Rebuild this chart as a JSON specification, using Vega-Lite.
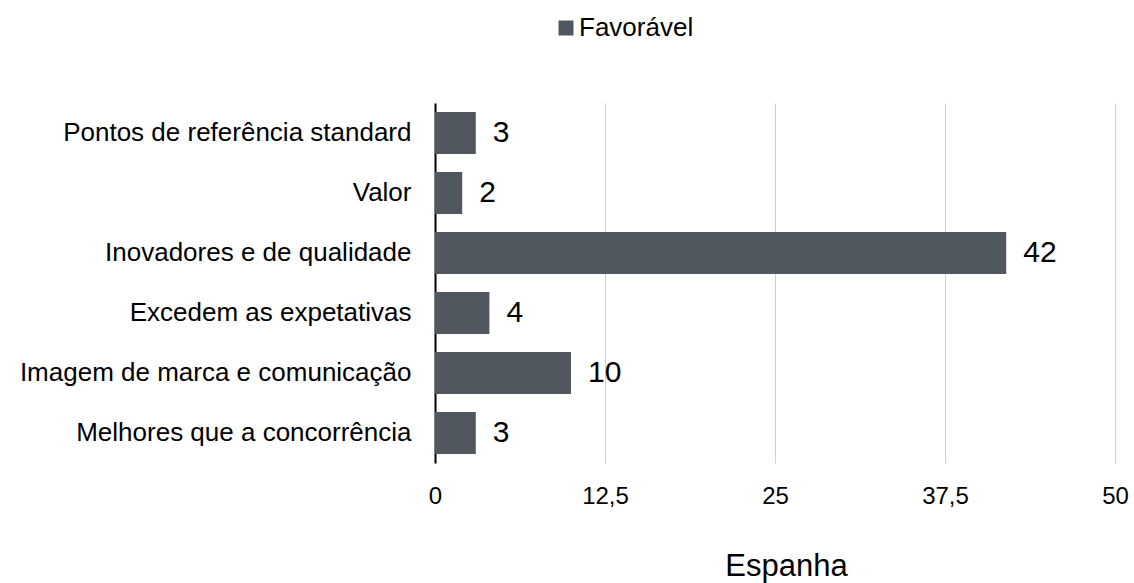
{
  "$schema": "https://vega.github.io/schema/vega-lite/v6.json",
  "width": 680,
  "height": 360,
  "autosize": "none",
  "padding": {"left": 435, "top": 103, "right": 19, "bottom": 120},
  "background": "white",
  "config": {
    "font": "Liberation Sans",
    "view": {"stroke": null}
  },
  "data": {
    "values": [
      {"categoria": "Pontos de referência standard", "valor": 3, "serie": "Favorável"},
      {"categoria": "Valor", "valor": 2, "serie": "Favorável"},
      {"categoria": "Inovadores e de qualidade", "valor": 42, "serie": "Favorável"},
      {"categoria": "Excedem as expetativas", "valor": 4, "serie": "Favorável"},
      {"categoria": "Imagem de marca e comunicação", "valor": 10, "serie": "Favorável"},
      {"categoria": "Melhores que a concorrência", "valor": 3, "serie": "Favorável"}
    ]
  },
  "encoding": {
    "y": {
      "field": "categoria",
      "type": "nominal",
      "sort": null,
      "scale": {"paddingInner": 0.3, "paddingOuter": 0.15},
      "axis": {
        "title": null,
        "domain": true,
        "domainColor": "#000000",
        "domainWidth": 2,
        "ticks": false,
        "grid": false,
        "labelFontSize": 26,
        "labelColor": "#000000",
        "labelPadding": 24,
        "labelLimit": 500
      }
    },
    "x": {
      "field": "valor",
      "type": "quantitative",
      "scale": {"domain": [0, 50], "nice": false},
      "axis": {
        "title": "Espanha",
        "values": [0, 12.5, 25, 37.5, 50],
        "labelExpr": "replace(format(datum.value, '~g'), '.', ',')",
        "domain": false,
        "ticks": false,
        "grid": true,
        "gridColor": "#d0d0d0",
        "gridWidth": 1,
        "labelFontSize": 24,
        "labelColor": "#000000",
        "labelPadding": 21,
        "labelFlush": false,
        "titleFontSize": 31,
        "titleFontWeight": "normal",
        "titleColor": "#000000",
        "titleX": 351,
        "titleY": 112,
        "titleAlign": "center",
        "titleBaseline": "alphabetic"
      }
    }
  },
  "layer": [
    {
      "mark": {"type": "bar"},
      "encoding": {
        "color": {
          "field": "serie",
          "type": "nominal",
          "scale": {"range": ["#51575f"]},
          "legend": {
            "title": null,
            "orient": "none",
            "legendX": 118,
            "legendY": -88,
            "symbolType": "square",
            "symbolSize": 225,
            "symbolStrokeWidth": 0,
            "labelFontSize": 26,
            "labelColor": "#000000",
            "labelOffset": 0,
            "padding": 0
          }
        }
      }
    },
    {
      "mark": {"type": "text", "align": "left", "baseline": "middle", "dx": 17, "fontSize": 30, "color": "#000000"},
      "encoding": {
        "text": {"field": "valor", "type": "quantitative"}
      }
    }
  ]
}
